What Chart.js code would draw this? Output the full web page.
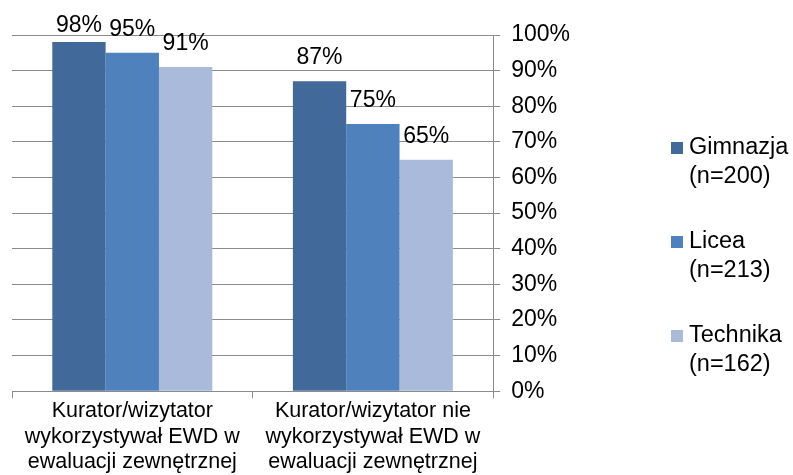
<!DOCTYPE html>
<html>
<head>
<meta charset="utf-8">
<script src="https://cdn.jsdelivr.net/npm/chart.js@4/dist/chart.umd.min.js"></script>
<style>
  html, body { margin: 0; padding: 0; background: #ffffff; }
  #wrap { width: 793px; height: 475px; }
</style>
</head>
<body>
<div id="wrap"><canvas id="grafico"></canvas></div>
<script>
const kategorie = [
    ['Kurator/wizytator', 'wykorzystywał EWD w', 'ewaluacji zewnętrznej'],
    ['Kurator/wizytator nie', 'wykorzystywał EWD w', 'ewaluacji zewnętrznej']
];
const serie = ['Gimnazja', 'Licea', 'Technika'];
const liczebnosc = ['(n=200)', '(n=213)', '(n=162)'];
const gimnazja = [98, 87];
const licea = [95, 75];
const technika = [91, 65];
const kolory = ['#416A9B', '#4F81BD', '#AABADA'];

const czcionka = 'Liberation Sans, Arial, sans-serif';

// etykiety wartosci nad slupkami
const etykietyPlugin = {
    id: 'etykiety',
    afterDatasetsDraw(chart) {
        const ctx = chart.ctx;
        ctx.save();
        ctx.font = '23px ' + czcionka;
        ctx.fillStyle = '#000000';
        ctx.textAlign = 'center';
        ctx.textBaseline = 'alphabetic';
        chart.data.datasets.forEach((ds, i) => {
            const meta = chart.getDatasetMeta(i);
            meta.data.forEach((bar, j) => {
                const y = Math.max(bar.y - 17, 32);
                ctx.fillText(ds.data[j] + '%', bar.x, y);
            });
        });
        ctx.restore();
    }
};

// legenda po prawej, dwie linie na wpis
const legendaPlugin = {
    id: 'legenda',
    afterDraw(chart) {
        const ctx = chart.ctx;
        ctx.save();
        ctx.font = '23.5px ' + czcionka;
        ctx.textBaseline = 'middle';
        ctx.textAlign = 'left';
        chart.data.datasets.forEach((ds, i) => {
            const y = 148 + i * 94;
            ctx.fillStyle = ds.backgroundColor;
            ctx.fillRect(671, y - 6, 12, 12);
            ctx.fillStyle = '#000000';
            ctx.fillText(serie[i], 689, y);
            ctx.fillText(liczebnosc[i], 689, y + 29);
        });
        ctx.restore();
    }
};

new Chart(document.getElementById('grafico').getContext('2d'), {
    type: 'bar',
    data: {
        labels: kategorie,
        datasets: [
            { label: serie[0], data: gimnazja, backgroundColor: kolory[0] },
            { label: serie[1], data: licea, backgroundColor: kolory[1] },
            { label: serie[2], data: technika, backgroundColor: kolory[2] }
        ]
    },
    options: {
        responsive: true,
        maintainAspectRatio: false,
        animation: false,
        layout: { padding: { left: 12, top: 35, right: 212, bottom: 0 } },
        datasets: { bar: { categoryPercentage: 0.665, barPercentage: 1.0 } },
        plugins: {
            legend: { display: false },
            tooltip: { enabled: false }
        },
        scales: {
            x: {
                grid: {
                    offset: true,
                    drawOnChartArea: false,
                    drawTicks: true,
                    tickLength: 7,
                    color: '#8C8C8C'
                },
                border: { color: '#8C8C8C', width: 1 },
                ticks: {
                    color: '#000000',
                    font: { family: czcionka, size: 21.5, lineHeight: 1.19 },
                    padding: 0,
                    maxRotation: 0,
                    autoSkip: false
                }
            },
            y: {
                position: 'right',
                min: 0,
                max: 100,
                grid: { color: '#8C8C8C', tickLength: 7 },
                border: { color: '#8C8C8C', width: 1 },
                ticks: {
                    stepSize: 10,
                    color: '#000000',
                    font: { family: czcionka, size: 23 },
                    padding: 11,
                    callback: v => v + '%'
                }
            }
        }
    },
    plugins: [etykietyPlugin, legendaPlugin]
});
</script>
</body>
</html>
